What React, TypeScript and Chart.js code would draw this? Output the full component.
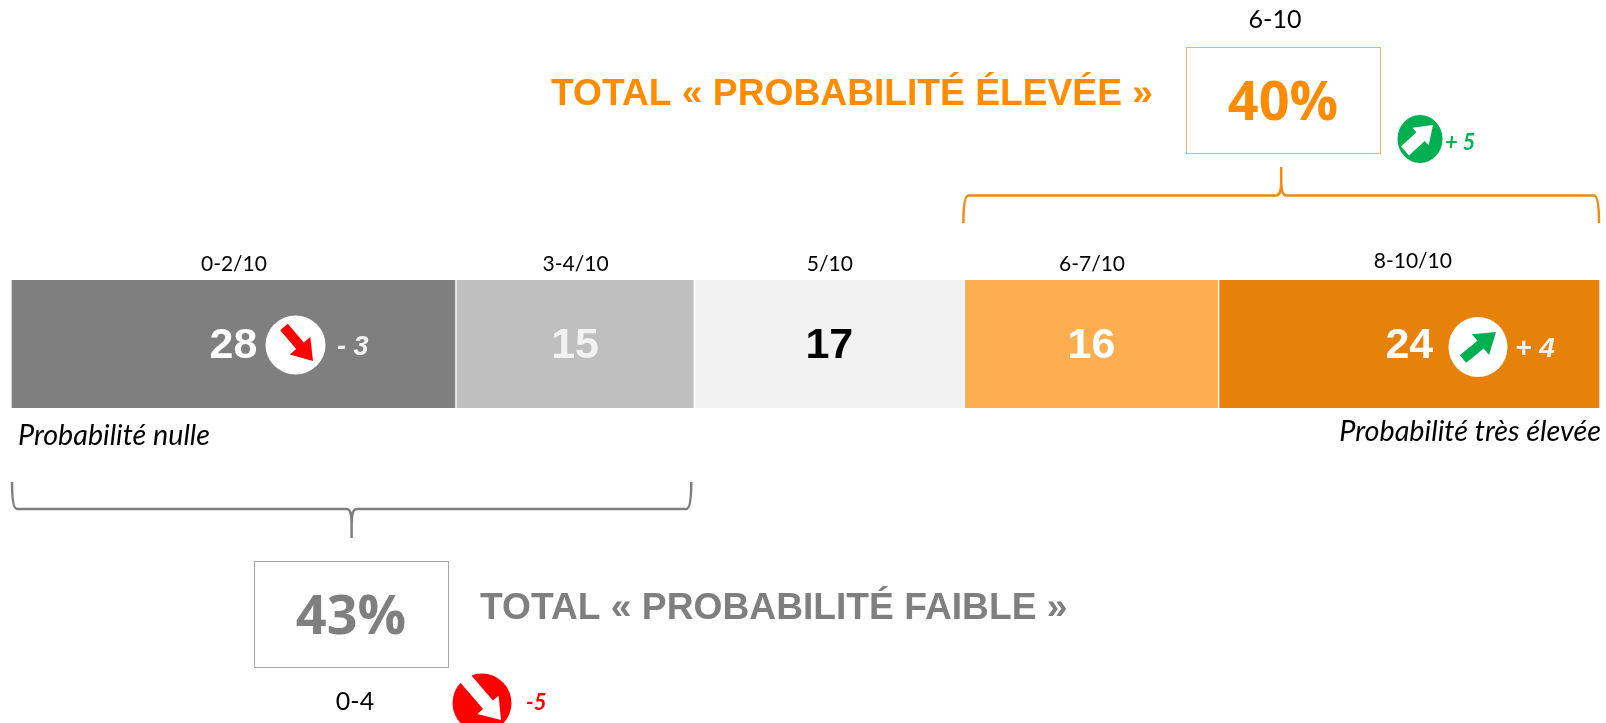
import React, { useEffect, useRef } from "react";
import { Chart, registerables } from "chart.js";

Chart.register(...registerables);

const rangeLabels = ["0-2/10", "3-4/10", "5/10", "6-7/10", "8-10/10"];
const values = [28, 15, 17, 16, 24];
const barColors = ["#7f7f7f", "#bfbfbf", "#f2f2f2", "#fbad50", "#e6820a"];
const valueColors = ["#ffffff", "#f2f2f2", "#000000", "#ffffff", "#ffffff"];
const lowTotal = "43%";
const highTotal = "40%";
const lowTitle = "TOTAL « PROBABILITÉ FAIBLE »";
const highTitle = "TOTAL « PROBABILITÉ ÉLEVÉE »";
const lowRange = "0-4";
const highRange = "6-10";
const leftCaption = "Probabilité nulle";
const rightCaption = "Probabilité très élevée";
const deltaFirst = "- 3";
const deltaLast = "+ 4";
const deltaLow = "-5";
const deltaHigh = "+ 5";

const ORANGE = "#ff8c00";
const GREY = "#7f7f7f";
const GREEN = "#00b050";
const RED = "#ff0000";
const ARIAL = '"Liberation Sans"';
const BODY = "Lato";
const TOTAL_FONT = '"Open Sans"';

type Ctx = CanvasRenderingContext2D;

function text(ctx: Ctx, s: string, x: number, y: number, font: string, color: string, align: CanvasTextAlign = "center") {
  ctx.font = font;
  ctx.fillStyle = color;
  ctx.textAlign = align;
  ctx.textBaseline = "middle";
  ctx.fillText(s, x, y);
}

function ellipse(ctx: Ctx, cx: number, cy: number, rx: number, ry: number, color: string) {
  ctx.beginPath();
  ctx.ellipse(cx, cy, rx, ry, 0, 0, Math.PI * 2);
  ctx.fillStyle = color;
  ctx.fill();
}

function arrow(ctx: Ctx, x0: number, y0: number, x1: number, y1: number, shaft: number, head: number, headLen: number, color: string) {
  const a = Math.atan2(y1 - y0, x1 - x0);
  const len = Math.hypot(x1 - x0, y1 - y0);
  ctx.save();
  ctx.translate(x0, y0);
  ctx.rotate(a);
  ctx.beginPath();
  ctx.moveTo(0, -shaft / 2);
  ctx.lineTo(len - headLen, -shaft / 2);
  ctx.lineTo(len - headLen, -head / 2);
  ctx.lineTo(len, 0);
  ctx.lineTo(len - headLen, head / 2);
  ctx.lineTo(len - headLen, shaft / 2);
  ctx.lineTo(0, shaft / 2);
  ctx.closePath();
  ctx.fillStyle = color;
  ctx.fill();
  ctx.restore();
}

function bracket(ctx: Ctx, xL: number, xR: number, yEnd: number, yBar: number, yTip: number, color: string) {
  const xT = (xL + xR) / 2;
  const r = 5;
  const s = Math.sign(yEnd - yBar);
  ctx.beginPath();
  ctx.moveTo(xL, yEnd);
  ctx.quadraticCurveTo(xL, yBar, xL + r, yBar);
  ctx.lineTo(xT - r, yBar);
  ctx.quadraticCurveTo(xT, yBar, xT, yBar - s * 14);
  ctx.lineTo(xT, yTip);
  ctx.lineTo(xT, yBar - s * 14);
  ctx.quadraticCurveTo(xT, yBar, xT + r, yBar);
  ctx.lineTo(xR - r, yBar);
  ctx.quadraticCurveTo(xR, yBar, xR, yEnd);
  ctx.strokeStyle = color;
  ctx.lineWidth = 2.5;
  ctx.stroke();
}

const annotations = {
  id: "annotations",
  afterDraw(chart: any) {
    const ctx: Ctx = chart.ctx;
    const xs = chart.scales.x;
    const cy = (chart.chartArea.top + chart.chartArea.bottom) / 2;
    ctx.save();
    let cum = 0;
    values.forEach((v, i) => {
      const cx = xs.getPixelForValue(cum + v / 2);
      cum += v;
      text(ctx, String(v), cx, cy + 2, `bold 43px ${ARIAL}`, valueColors[i]);
      text(ctx, rangeLabels[i], cx + (i === 4 ? 3.5 : 0.5), i === 4 ? 261 : 264, `21px ${BODY}`, "#000000");
    });

    // Badges inside the bar
    ellipse(ctx, 295.5, 345, 30, 29.5, "#ffffff");
    arrow(ctx, 284, 327, 313, 361, 10, 27, 20, RED);
    text(ctx, deltaFirst, 337, 348, `italic bold 27px ${ARIAL}`, "#f2f2f2", "left");
    ellipse(ctx, 1478, 347, 29.5, 30, "#ffffff");
    arrow(ctx, 1463, 359, 1496, 332, 10, 27, 20, GREEN);
    text(ctx, deltaLast, 1515, 349, `italic bold 28px ${ARIAL}`, "#f2f2f2", "left");

    // Captions
    text(ctx, leftCaption, 18, 436, `italic 28.7px ${BODY}`, "#000000", "left");
    text(ctx, rightCaption, 1601, 432, `italic 28.8px ${BODY}`, "#000000", "right");

    // High group
    bracket(ctx, xs.getPixelForValue(60) - 1, xs.getPixelForValue(100) - 1, 223, 195.5, 167, "#f08a10");
    ctx.strokeStyle = "#f7b163";
    ctx.lineWidth = 1;
    ctx.strokeRect(1186.5, 47.5, 194, 106);
    text(ctx, highTotal, 1283, 105, `bold 54px ${TOTAL_FONT}`, ORANGE);
    text(ctx, highTitle, 551, 95, `bold 37.2px ${ARIAL}`, ORANGE, "left");
    text(ctx, highRange, 1275, 20, `25px ${BODY}`, "#000000");
    ellipse(ctx, 1420, 139, 22.5, 24, GREEN);
    arrow(ctx, 1405, 151, 1433, 125, 12, 24, 17, "#ffffff");
    text(ctx, deltaHigh, 1445, 143, `italic bold 22px ${BODY}`, GREEN, "left");

    // Low group
    bracket(ctx, xs.getPixelForValue(0) + 1, xs.getPixelForValue(43) - 3, 482, 509, 538, GREY);
    ctx.strokeStyle = "#a6a6a6";
    ctx.lineWidth = 1;
    ctx.strokeRect(254.5, 561.5, 194, 106);
    text(ctx, lowTotal, 351, 619, `bold 54px ${TOTAL_FONT}`, GREY);
    text(ctx, lowTitle, 480, 609, `bold 37.2px ${ARIAL}`, GREY, "left");
    text(ctx, lowRange, 355, 702, `25px ${BODY}`, "#000000");
    ellipse(ctx, 482, 703, 29.5, 29.5, RED);
    arrow(ctx, 465, 678, 501, 720, 13, 28, 20, "#ffffff");
    text(ctx, deltaLow, 526, 703, `italic bold 22px ${BODY}`, RED, "left");
    ctx.restore();
  },
};

export default function App() {
  const ref = useRef<HTMLCanvasElement>(null);
  useEffect(() => {
    if (!ref.current) return;
    const chart = new Chart(ref.current, {
      type: "bar",
      data: {
        labels: [""],
        datasets: values.map((v, i) => ({
          label: rangeLabels[i],
          data: [v],
          backgroundColor: barColors[i],
          borderColor: "#ffffff",
          borderWidth: { left: 1, right: 1, top: 0, bottom: 0 },
          borderSkipped: false,
          categoryPercentage: 1,
          barPercentage: 1,
        })),
      },
      options: {
        indexAxis: "y",
        responsive: false,
        animation: false,
        events: [],
        layout: { padding: { left: 11, right: 6, top: 280, bottom: 315 } },
        plugins: { legend: { display: false }, tooltip: { enabled: false }, title: { display: false } },
        scales: {
          x: { stacked: true, min: 0, max: 100, display: false },
          y: { stacked: true, display: false },
        },
      },
      plugins: [annotations],
    } as any);
    return () => chart.destroy();
  }, []);
  return (
    <canvas
      ref={ref}
      width={1606}
      height={723}
      style={{ position: "absolute", left: 0, top: 0, width: 1606, height: 723, display: "block" }}
    />
  );
}
